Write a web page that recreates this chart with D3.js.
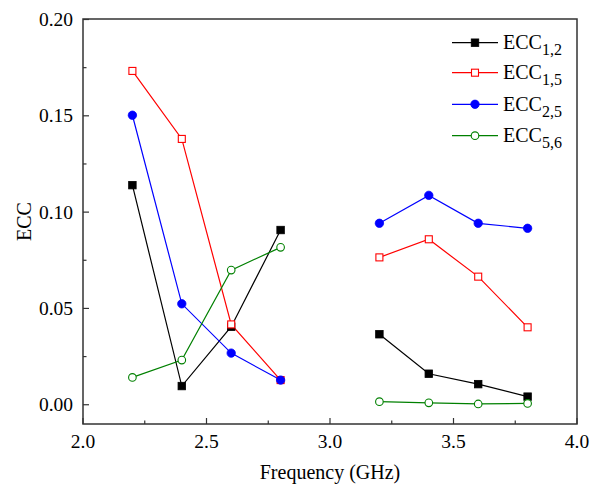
<!doctype html>
<html>
<head>
<style>
  body { margin: 0; background: #fff; }
</style>
<script src="https://d3js.org/d3.v7.min.js"></script>
</head>
<body>
<svg width="602" height="487" font-family="'Times New Roman', 'Liberation Serif', Times, serif"></svg>
<script>
// frequencies (GHz); null marks the gap between bands
var freq = [2.2, 2.4, 2.6, 2.8, 3.0, 3.2, 3.4, 3.6, 3.8];

var ecc12 = [0.114, 0.0097, 0.0405, 0.0907, null, 0.0366, 0.0161, 0.0107, 0.0042];
var ecc15 = [0.1733, 0.138, 0.0417, 0.0128, null, 0.0765, 0.0859, 0.0665, 0.0402];
var ecc25 = [0.1503, 0.0524, 0.0268, 0.0128, null, 0.0942, 0.1087, 0.0942, 0.0916];
var ecc56 = [0.0142, 0.0232, 0.0699, 0.0817, null, 0.0016, 0.001, 0.0004, 0.0007];

var xTicks = [2.0, 2.5, 3.0, 3.5, 4.0];
var yTicks = [0.00, 0.05, 0.10, 0.15, 0.20];

var series = [
  { sub: "1,2", values: ecc12, color: "#000000", shape: "square", fill: true },
  { sub: "1,5", values: ecc15, color: "#ff0000", shape: "square", fill: false },
  { sub: "2,5", values: ecc25, color: "#0000ff", shape: "circle", fill: true },
  { sub: "5,6", values: ecc56, color: "#008000", shape: "circle", fill: false }
];

var svg = d3.select("svg");
var pLeft = 83, pRight = 577, pTop = 19, pBottom = 424;

var x = d3.scaleLinear().domain([2.0, 4.0]).range([pLeft, pRight]);
var y = d3.scaleLinear().domain([-0.01, 0.2]).range([pBottom, pTop + 0.5]);

var axisColor = "#333";

// frame
svg.append("rect")
   .attr("x", pLeft).attr("y", pTop)
   .attr("width", pRight - pLeft).attr("height", pBottom - pTop)
   .attr("fill", "none").attr("stroke", axisColor).attr("stroke-width", 1.5);

// x ticks (inward)
var xMinor = d3.range(2.25, 4.0, 0.5);
var gx = svg.append("g");
gx.selectAll(".xt").data(xTicks).enter().append("line")
  .attr("x1", function(d) { return x(d); }).attr("x2", function(d) { return x(d); })
  .attr("y1", pBottom).attr("y2", pBottom - 6)
  .attr("stroke", axisColor).attr("stroke-width", 1.2);
gx.selectAll(".xm").data(xMinor).enter().append("line")
  .attr("x1", function(d) { return x(d); }).attr("x2", function(d) { return x(d); })
  .attr("y1", pBottom).attr("y2", pBottom - 3.5)
  .attr("stroke", axisColor).attr("stroke-width", 1.2);
gx.selectAll("text").data(xTicks).enter().append("text")
  .attr("x", function(d) { return x(d); })
  .attr("y", pBottom + 24)
  .attr("text-anchor", "middle")
  .attr("font-size", 19.5)
  .text(function(d) { return d3.format(".1f")(d); });

// y ticks (inward)
var yMinor = [0.025, 0.075, 0.125, 0.175];
var gy = svg.append("g");
gy.selectAll(".yt").data(yTicks).enter().append("line")
  .attr("x1", pLeft).attr("x2", pLeft + 6)
  .attr("y1", function(d) { return y(d); }).attr("y2", function(d) { return y(d); })
  .attr("stroke", axisColor).attr("stroke-width", 1.2);
gy.selectAll(".ym").data(yMinor).enter().append("line")
  .attr("x1", pLeft).attr("x2", pLeft + 3.5)
  .attr("y1", function(d) { return y(d); }).attr("y2", function(d) { return y(d); })
  .attr("stroke", axisColor).attr("stroke-width", 1.2);
gy.selectAll("text").data(yTicks).enter().append("text")
  .attr("x", pLeft - 10)
  .attr("y", function(d) { return y(d) + 6.5; })
  .attr("text-anchor", "end")
  .attr("font-size", 19.5)
  .text(function(d) { return d3.format(".2f")(d); });

// axis titles
svg.append("text")
   .attr("x", (pLeft + pRight) / 2)
   .attr("y", 479)
   .attr("text-anchor", "middle")
   .attr("font-size", 20)
   .text("Frequency (GHz)");

svg.append("text")
   .attr("transform", "translate(31," + ((pTop + pBottom) / 2) + ") rotate(-90)")
   .attr("text-anchor", "middle")
   .attr("font-size", 20)
   .text("ECC");

function drawMarker(g, s, cx, cy) {
  if (s.shape === "square") {
    var sz = s.fill ? 7.5 : 7;
    g.append("rect")
     .attr("x", cx - sz / 2).attr("y", cy - sz / 2)
     .attr("width", sz).attr("height", sz)
     .attr("fill", s.fill ? s.color : "#fff")
     .attr("stroke", s.color).attr("stroke-width", s.fill ? 0.8 : 1.1);
  } else {
    g.append("circle")
     .attr("cx", cx).attr("cy", cy).attr("r", s.fill ? 4.2 : 3.8)
     .attr("fill", s.fill ? s.color : "#fff")
     .attr("stroke", s.color).attr("stroke-width", s.fill ? 0.8 : 1.1);
  }
}

var line = d3.line()
  .defined(function(d) { return d[1] !== null; })
  .x(function(d) { return x(d[0]); })
  .y(function(d) { return y(d[1]); });

series.forEach(function(s) {
  var pts = freq.map(function(f, i) { return [f, s.values[i]]; });
  svg.append("path")
     .datum(pts)
     .attr("d", line)
     .attr("fill", "none")
     .attr("stroke", s.color)
     .attr("stroke-width", 1.2);
});

series.forEach(function(s) {
  var g = svg.append("g");
  freq.forEach(function(f, i) {
    if (s.values[i] !== null) drawMarker(g, s, x(f), y(s.values[i]));
  });
});

// legend
var legY = [42.7, 72.7, 104.3, 135.7];
series.forEach(function(s, i) {
  var g = svg.append("g");
  g.append("line")
   .attr("x1", 452).attr("x2", 498)
   .attr("y1", legY[i]).attr("y2", legY[i])
   .attr("stroke", s.color).attr("stroke-width", 1.2);
  drawMarker(g, s, 475, legY[i]);
  var t = g.append("text")
   .attr("x", 503).attr("y", legY[i] + 6.5)
   .attr("font-size", 20);
  t.append("tspan").text("ECC");
  t.append("tspan").attr("font-size", 16).attr("dy", 6).text(s.sub);
});
</script>
</body>
</html>
